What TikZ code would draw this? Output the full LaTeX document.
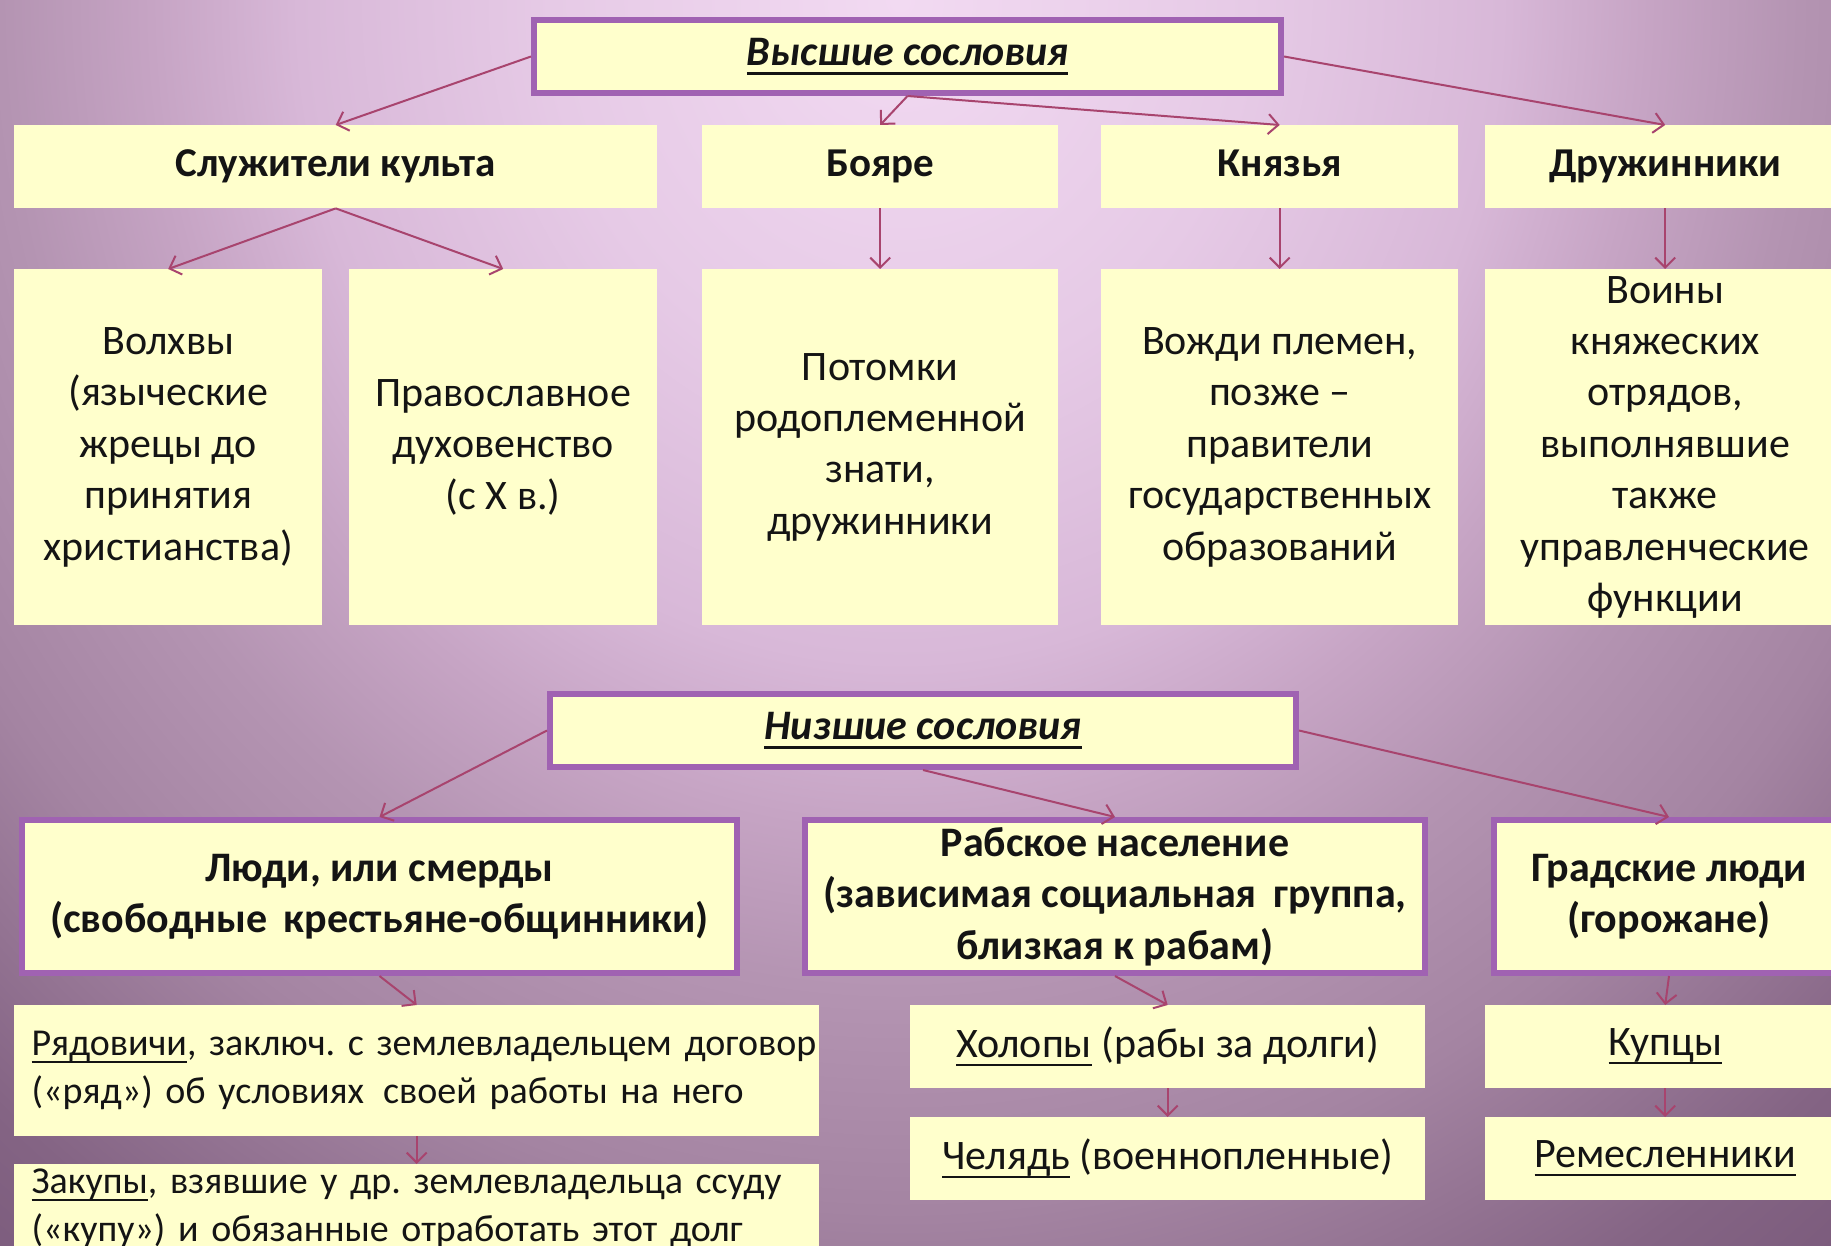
\documentclass[tikz,border=0pt]{standalone}
\usepackage{fontspec}
\setmainfont{Carlito}
\newfontfamily\lowfont[WordSpace=0.45]{Carlito}
\usetikzlibrary{arrows.meta}
\definecolor{boxfill}{HTML}{FFFFCC}
\definecolor{boxline}{HTML}{A062B2}
\definecolor{arrcol}{HTML}{A8446E}
\definecolor{txt}{HTML}{141414}
\definecolor{bgA}{HTML}{F2DAF2}
\definecolor{bgB}{HTML}{E6CAE6}
\definecolor{bgC}{HTML}{D8B8D8}
\definecolor{bgD}{HTML}{C6A4C4}
\definecolor{bgE}{HTML}{B494B2}
\definecolor{bgF}{HTML}{A484A2}
\definecolor{bgG}{HTML}{846484}
\definecolor{bgH}{HTML}{735375}
\pgfdeclareradialshading{bgshade}{\pgfpoint{0bp}{0bp}}{color(0bp)=(bgA); color(5.45bp)=(bgB); color(9.4bp)=(bgC); color(11.7bp)=(bgD); color(14.05bp)=(bgE); color(17.2bp)=(bgF); color(21.1bp)=(bgG); color(25bp)=(bgH); color(50bp)=(bgH)}
\newcommand\fTitle{\fontsize{42}{48}\selectfont\bfseries\itshape}
\newcommand\fHead{\fontsize{41}{48}\selectfont\bfseries}
\newcommand\fBody{\fontsize{42}{51.4}\selectfont}
\newcommand\fBold{\fontsize{42}{51.4}\selectfont\bfseries}
\newcommand\fLow{\lowfont\fontsize{38}{48}\selectfont\frenchspacing}
\newcommand\myul[1]{\setbox0\hbox{#1}\rlap{\rule[-0.2em]{\wd0}{2pt}}\box0{}}
\newcommand\myulb[1]{\setbox0\hbox{#1}\rlap{\rule[-0.22em]{\wd0}{3pt}}\box0{}}
\tikzset{
  box/.style={fill=boxfill, draw=none, inner sep=0pt, anchor=north west, align=center, text=txt, font=\fBody},
  bbox/.style={box, draw=boxline, line width=6pt, font=\fBold},
  headbox/.style={box, font=\fHead, text height=29pt, text depth=9pt},
  lowbox/.style={box, font=\fLow, align=left, text width=770pt, inner xsep=17.5pt, minimum width=805pt},
  arr/.style={draw=arrcol, line width=2pt, -{Straight Barb[length=10pt,width=20pt,line width=2pt]}},
}
\begin{document}
\begin{tikzpicture}[x=1pt,y=-1pt]
\useasboundingbox (0,0) rectangle (1831,1246);
\clip (0,0) rectangle (1831,1246);
\shade[shading=bgshade] (900,0) ellipse [x radius=1600pt, y radius=1760pt];

% upper estates
\node[bbox, font=\fTitle, minimum width=747pt, minimum height=73pt] (top) at (531,17) {\myulb{Высшие сословия}};
\node[headbox, minimum width=643pt, minimum height=83pt] (sluz) at (14,125) {Служители культа};
\node[headbox, minimum width=356pt, minimum height=83pt] (boyare) at (702,125) {Бояре};
\node[headbox, minimum width=357pt, minimum height=83pt] (knyaz) at (1101,125) {Князья};
\node[headbox, minimum width=360pt, minimum height=83pt] (druzh) at (1485,125) {Дружинники};

\node[box, minimum width=308pt, minimum height=356pt] (volh) at (14,269) {Волхвы\\(языческие\\жрецы до\\принятия\\христианства)};
\node[box, minimum width=308pt, minimum height=356pt] (prav) at (349,269) {Православное\\духовенство\\(с Х в.)};
\node[box, minimum width=356pt, minimum height=356pt] (potom) at (702,269) {Потомки\\родоплеменной\\знати,\\дружинники};
\node[box, minimum width=357pt, minimum height=356pt] (vozhd) at (1101,269) {Вожди племен,\\позже –\\правители\\государственных\\образований};
\node[box, minimum width=360pt, minimum height=356pt] (voiny) at (1485,269) {Воины\\княжеских\\отрядов,\\выполнявшие\\также\\управленческие\\функции};

% lower estates
\node[bbox, font=\fTitle, minimum width=746pt, minimum height=73pt] (nizh) at (547,691) {\myulb{Низшие сословия}};
\node[bbox, minimum width=715pt, minimum height=153pt] (lyudi) at (19,817) {Люди, или смерды\\(свободные\, крестьяне-общинники)};
\node[bbox, minimum width=620pt, minimum height=153pt] (rab) at (802,817) {Рабское население\\(зависимая социальная\, группа,\\близкая к рабам)};
\node[bbox, minimum width=350pt, minimum height=153pt] (grad) at (1491,817) {Градские люди\\(горожане)};

\node[lowbox, minimum height=131pt] (ryad) at (14,1005) {\mbox{\myul{Рядовичи}, заключ. с землевладельцем договор}\\\mbox{(«ряд») об условиях\, своей работы на него}};
\node[lowbox, minimum height=88pt] (zakup) at (14,1164) {\mbox{\myul{Закупы}, взявшие у др. землевладельца ссуду}\\\mbox{(«купу») и обязанные отработать этот долг}};

\node[box, minimum width=515pt, minimum height=83pt] (khol) at (910,1005) {\myul{Холопы} (рабы за долги)};
\node[box, minimum width=515pt, minimum height=83pt] (chel) at (910,1117) {\myul{Челядь} (военнопленные)};
\node[box, minimum width=360pt, minimum height=83pt] (kup) at (1485,1005) {\myul{Купцы}};
\node[box, minimum width=360pt, minimum height=83pt] (rem) at (1485,1117) {\myul{Ремесленники}};

% connectors
\draw[arr] (top.west) -- (sluz.north);
\draw[arr] (top.south) -- (boyare.north);
\draw[arr] (top.south) -- (knyaz.north);
\draw[arr] (top.east) -- (druzh.north);
\draw[arr] (sluz.south) -- (volh.north);
\draw[arr] (sluz.south) -- (prav.north);
\draw[arr] (boyare.south) -- (potom.north);
\draw[arr] (knyaz.south) -- (vozhd.north);
\draw[arr] (druzh.south) -- (voiny.north);

\draw[arr] (nizh.west) -- (lyudi.north);
\draw[arr] (nizh.south) -- (rab.north);
\draw[arr] (nizh.east) -- (grad.north);
\draw[arr] (lyudi.south) -- (ryad.north);
\draw[arr] (ryad.south) -- (zakup.north);
\draw[arr] (rab.south) -- (khol.north);
\draw[arr] (khol.south) -- (chel.north);
\draw[arr] (grad.south) -- (kup.north);
\draw[arr] (kup.south) -- (rem.north);
\end{tikzpicture}
\end{document}
